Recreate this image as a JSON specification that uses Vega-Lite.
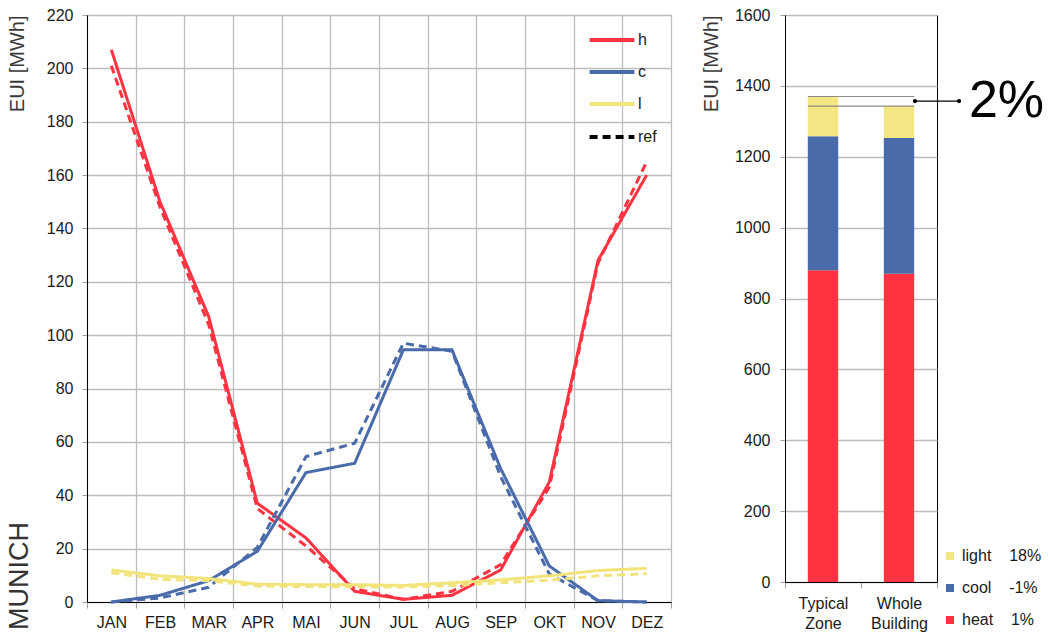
{
  "$schema": "https://vega.github.io/schema/vega-lite/v6.json",
  "padding": {"left": 5, "top": 6, "right": 2, "bottom": 0},
  "background": "white",
  "resolve": {"scale": {"color": "independent", "strokeDash": "independent"}, "legend": {"color": "independent", "strokeDash": "independent"}},
  "config": {
    "font": "Liberation Sans",
    "view": {"stroke": "black", "strokeWidth": 1},
    "axis": {"labelFont": "Liberation Sans", "labelFontSize": 16, "labelColor": "#1a1a1a", "titleFont": "Liberation Sans", "titleFontWeight": "normal", "titleColor": "#3a3a3a", "titleFontSize": 20, "gridColor": "#BDBDBD", "gridWidth": 1.3, "domainColor": "black", "tickColor": "#A0A0A0"},
    "legend": {"labelFont": "Liberation Sans", "labelFontSize": 16, "labelColor": "#1a1a1a"},
    "concat": {"spacing": 28}
  },
  "datasets": {
    "monthly": [
      {"month": "JAN", "series": "h", "type": "sim", "value": 207},
      {"month": "FEB", "series": "h", "type": "sim", "value": 150},
      {"month": "MAR", "series": "h", "type": "sim", "value": 107},
      {"month": "APR", "series": "h", "type": "sim", "value": 37},
      {"month": "MAI", "series": "h", "type": "sim", "value": 24},
      {"month": "JUN", "series": "h", "type": "sim", "value": 4},
      {"month": "JUL", "series": "h", "type": "sim", "value": 1},
      {"month": "AUG", "series": "h", "type": "sim", "value": 2.5},
      {"month": "SEP", "series": "h", "type": "sim", "value": 12},
      {"month": "OKT", "series": "h", "type": "sim", "value": 45},
      {"month": "NOV", "series": "h", "type": "sim", "value": 128},
      {"month": "DEZ", "series": "h", "type": "sim", "value": 160},
      {"month": "JAN", "series": "h", "type": "ref", "value": 201},
      {"month": "FEB", "series": "h", "type": "ref", "value": 148},
      {"month": "MAR", "series": "h", "type": "ref", "value": 104},
      {"month": "APR", "series": "h", "type": "ref", "value": 35},
      {"month": "MAI", "series": "h", "type": "ref", "value": 21},
      {"month": "JUN", "series": "h", "type": "ref", "value": 5},
      {"month": "JUL", "series": "h", "type": "ref", "value": 1},
      {"month": "AUG", "series": "h", "type": "ref", "value": 4},
      {"month": "SEP", "series": "h", "type": "ref", "value": 14},
      {"month": "OKT", "series": "h", "type": "ref", "value": 43},
      {"month": "NOV", "series": "h", "type": "ref", "value": 127},
      {"month": "DEZ", "series": "h", "type": "ref", "value": 165},
      {"month": "JAN", "series": "c", "type": "sim", "value": 0},
      {"month": "FEB", "series": "c", "type": "sim", "value": 2.5},
      {"month": "MAR", "series": "c", "type": "sim", "value": 8},
      {"month": "APR", "series": "c", "type": "sim", "value": 19},
      {"month": "MAI", "series": "c", "type": "sim", "value": 48.5},
      {"month": "JUN", "series": "c", "type": "sim", "value": 52},
      {"month": "JUL", "series": "c", "type": "sim", "value": 94.5},
      {"month": "AUG", "series": "c", "type": "sim", "value": 94.5},
      {"month": "SEP", "series": "c", "type": "sim", "value": 50},
      {"month": "OKT", "series": "c", "type": "sim", "value": 13.5},
      {"month": "NOV", "series": "c", "type": "sim", "value": 0.5},
      {"month": "DEZ", "series": "c", "type": "sim", "value": 0},
      {"month": "JAN", "series": "c", "type": "ref", "value": 0},
      {"month": "FEB", "series": "c", "type": "ref", "value": 1.5},
      {"month": "MAR", "series": "c", "type": "ref", "value": 5.5},
      {"month": "APR", "series": "c", "type": "ref", "value": 20.5},
      {"month": "MAI", "series": "c", "type": "ref", "value": 54.5},
      {"month": "JUN", "series": "c", "type": "ref", "value": 59.5},
      {"month": "JUL", "series": "c", "type": "ref", "value": 97},
      {"month": "AUG", "series": "c", "type": "ref", "value": 94},
      {"month": "SEP", "series": "c", "type": "ref", "value": 47},
      {"month": "OKT", "series": "c", "type": "ref", "value": 10.5},
      {"month": "NOV", "series": "c", "type": "ref", "value": 0.5},
      {"month": "DEZ", "series": "c", "type": "ref", "value": 0},
      {"month": "JAN", "series": "l", "type": "sim", "value": 12},
      {"month": "FEB", "series": "l", "type": "sim", "value": 9.8},
      {"month": "MAR", "series": "l", "type": "sim", "value": 8.8},
      {"month": "APR", "series": "l", "type": "sim", "value": 6.7},
      {"month": "MAI", "series": "l", "type": "sim", "value": 6.5},
      {"month": "JUN", "series": "l", "type": "sim", "value": 6.5},
      {"month": "JUL", "series": "l", "type": "sim", "value": 6.2},
      {"month": "AUG", "series": "l", "type": "sim", "value": 7.2},
      {"month": "SEP", "series": "l", "type": "sim", "value": 8.3},
      {"month": "OKT", "series": "l", "type": "sim", "value": 9.8},
      {"month": "NOV", "series": "l", "type": "sim", "value": 11.8},
      {"month": "DEZ", "series": "l", "type": "sim", "value": 12.6},
      {"month": "JAN", "series": "l", "type": "ref", "value": 11},
      {"month": "FEB", "series": "l", "type": "ref", "value": 8.5},
      {"month": "MAR", "series": "l", "type": "ref", "value": 8},
      {"month": "APR", "series": "l", "type": "ref", "value": 6},
      {"month": "MAI", "series": "l", "type": "ref", "value": 5.8},
      {"month": "JUN", "series": "l", "type": "ref", "value": 5.7},
      {"month": "JUL", "series": "l", "type": "ref", "value": 5.6},
      {"month": "AUG", "series": "l", "type": "ref", "value": 6.2},
      {"month": "SEP", "series": "l", "type": "ref", "value": 7.2},
      {"month": "OKT", "series": "l", "type": "ref", "value": 8.2},
      {"month": "NOV", "series": "l", "type": "ref", "value": 9.8},
      {"month": "DEZ", "series": "l", "type": "ref", "value": 10.6}
    ],
    "annual": [
      {"case": "Typical Zone", "component": "heat", "ord": 1, "value": 880},
      {"case": "Typical Zone", "component": "cool", "ord": 2, "value": 378},
      {"case": "Typical Zone", "component": "light", "ord": 3, "value": 112},
      {"case": "Whole Building", "component": "heat", "ord": 1, "value": 870},
      {"case": "Whole Building", "component": "cool", "ord": 2, "value": 383},
      {"case": "Whole Building", "component": "light", "ord": 3, "value": 90}
    ],
    "totals": [
      {"from": "Typical Zone", "to": "Whole Building", "value": 1370},
      {"from": "Typical Zone", "to": "Whole Building", "value": 1343}
    ],
    "delta": [
      {"case": "Whole Building", "value": 1357, "label": "2%"}
    ]
  },
  "hconcat": [
    {
      "width": 584,
      "height": 587,
      "title": {"text": "MUNICH", "orient": "left", "anchor": "start", "frame": "bounds", "fontSize": 27, "fontWeight": "normal", "font": "Liberation Sans", "color": "#333333", "offset": -27},
      "data": {"name": "monthly"},
      "mark": {"type": "line", "strokeWidth": 3},
      "encoding": {
        "x": {
          "field": "month", "type": "ordinal",
          "sort": ["JAN", "FEB", "MAR", "APR", "MAI", "JUN", "JUL", "AUG", "SEP", "OKT", "NOV", "DEZ"],
          "scale": {"type": "band", "paddingInner": 0, "paddingOuter": 0},
          "bandPosition": 0.5,
          "axis": {"title": null, "labelAngle": 0, "tickBand": "extent", "grid": true, "tickSize": 6, "labelPadding": 6}
        },
        "y": {
          "field": "value", "type": "quantitative",
          "scale": {"domain": [0, 220], "nice": false},
          "axis": {"title": "EUI [MWh]", "titleAnchor": "end", "values": [0, 20, 40, 60, 80, 100, 120, 140, 160, 180, 200, 220], "tickSize": 5, "labelPadding": 9, "titlePadding": 19, "grid": true}
        },
        "color": {
          "field": "series", "type": "nominal",
          "scale": {"domain": ["h", "c", "l"], "range": ["#FF3341", "#4A6BAA", "#F2E47A"]},
          "legend": {"orient": "none", "legendX": 509, "legendY": 9, "title": null, "symbolType": "M-1.6,0H1.6", "symbolSize": 784, "symbolStrokeWidth": 4, "labelOffset": 10, "rowPadding": 8, "padding": 0}
        },
        "strokeDash": {
          "field": "type", "type": "nominal",
          "scale": {"domain": ["sim", "ref"], "range": [[1, 0], [8, 5]]},
          "legend": {"orient": "none", "legendX": 509, "legendY": 106, "title": null, "values": ["ref"], "symbolType": "M-1.6,0H1.6", "symbolSize": 784, "symbolStrokeWidth": 4, "symbolStrokeColor": "black", "labelOffset": 10, "padding": 0}
        }
      }
    },
    {
      "width": 152,
      "height": 567,
      "layer": [
        {
          "data": {"name": "annual"},
          "mark": {"type": "bar", "width": {"band": 0.4}},
          "encoding": {
            "x": {
              "field": "case", "type": "nominal",
              "sort": ["Typical Zone", "Whole Building"],
              "scale": {"type": "band", "paddingInner": 0, "paddingOuter": 0},
              "axis": {"title": null, "labelAngle": 0, "tickBand": "extent", "grid": false, "tickSize": 6, "labelPadding": 7, "labelExpr": "split(datum.label, ' ')", "labelLineHeight": 20}
            },
            "y": {
              "field": "value", "type": "quantitative", "stack": "zero",
              "scale": {"domain": [0, 1600], "nice": false},
              "axis": {"title": "EUI [MWh]", "titleAnchor": "end", "format": "d", "values": [0, 200, 400, 600, 800, 1000, 1200, 1400, 1600], "tickSize": 5, "labelPadding": 10, "titlePadding": 13, "grid": true}
            },
            "color": {
              "field": "component", "type": "nominal",
              "scale": {"domain": ["light", "cool", "heat"], "range": ["#F3E683", "#4A6BAA", "#FF3341"]},
              "legend": {"orient": "none", "legendX": 157, "legendY": 533, "title": null, "symbolType": "square", "symbolSize": 64, "symbolStrokeWidth": 0, "rowPadding": 16, "labelOffset": 4, "padding": 0, "labelExpr": "datum.label == 'light' ? 'light\u00a0\u00a0\u00a0\u00a018%' : datum.label == 'cool' ? 'cool\u00a0\u00a0\u00a0\u00a0-1%' : 'heat\u00a0\u00a0\u00a0\u00a01%'"}
            },
            "order": {"field": "ord", "type": "quantitative"}
          }
        },
        {
          "data": {"name": "totals"},
          "mark": {"type": "rule", "color": "#8C8C8C", "strokeWidth": 1.2},
          "encoding": {
            "x": {"field": "from", "type": "nominal", "sort": ["Typical Zone", "Whole Building"], "bandPosition": 0.3},
            "x2": {"field": "to", "bandPosition": 0.7},
            "y": {"field": "value", "type": "quantitative"}
          }
        },
        {
          "data": {"name": "delta"},
          "mark": {"type": "rule", "color": "black", "strokeWidth": 1.2},
          "encoding": {
            "x": {"field": "case", "type": "nominal", "sort": ["Typical Zone", "Whole Building"], "bandPosition": 0.71},
            "x2": {"field": "case", "bandPosition": 1.29},
            "y": {"field": "value", "type": "quantitative"}
          }
        },
        {
          "data": {"name": "delta"},
          "mark": {"type": "point", "filled": true, "color": "black", "size": 18, "opacity": 1},
          "encoding": {
            "x": {"field": "case", "type": "nominal", "sort": ["Typical Zone", "Whole Building"], "bandPosition": 0.71},
            "y": {"field": "value", "type": "quantitative"}
          }
        },
        {
          "data": {"name": "delta"},
          "mark": {"type": "point", "filled": true, "color": "black", "size": 18, "opacity": 1},
          "encoding": {
            "x": {"field": "case", "type": "nominal", "sort": ["Typical Zone", "Whole Building"], "bandPosition": 1.29},
            "y": {"field": "value", "type": "quantitative"}
          }
        },
        {
          "data": {"name": "delta"},
          "mark": {"type": "text", "align": "left", "baseline": "middle", "fontSize": 52, "font": "Liberation Sans", "color": "black"},
          "encoding": {
            "x": {"field": "case", "type": "nominal", "sort": ["Typical Zone", "Whole Building"], "bandPosition": 1.42},
            "y": {"field": "value", "type": "quantitative"},
            "text": {"field": "label"}
          }
        }
      ]
    }
  ]
}
